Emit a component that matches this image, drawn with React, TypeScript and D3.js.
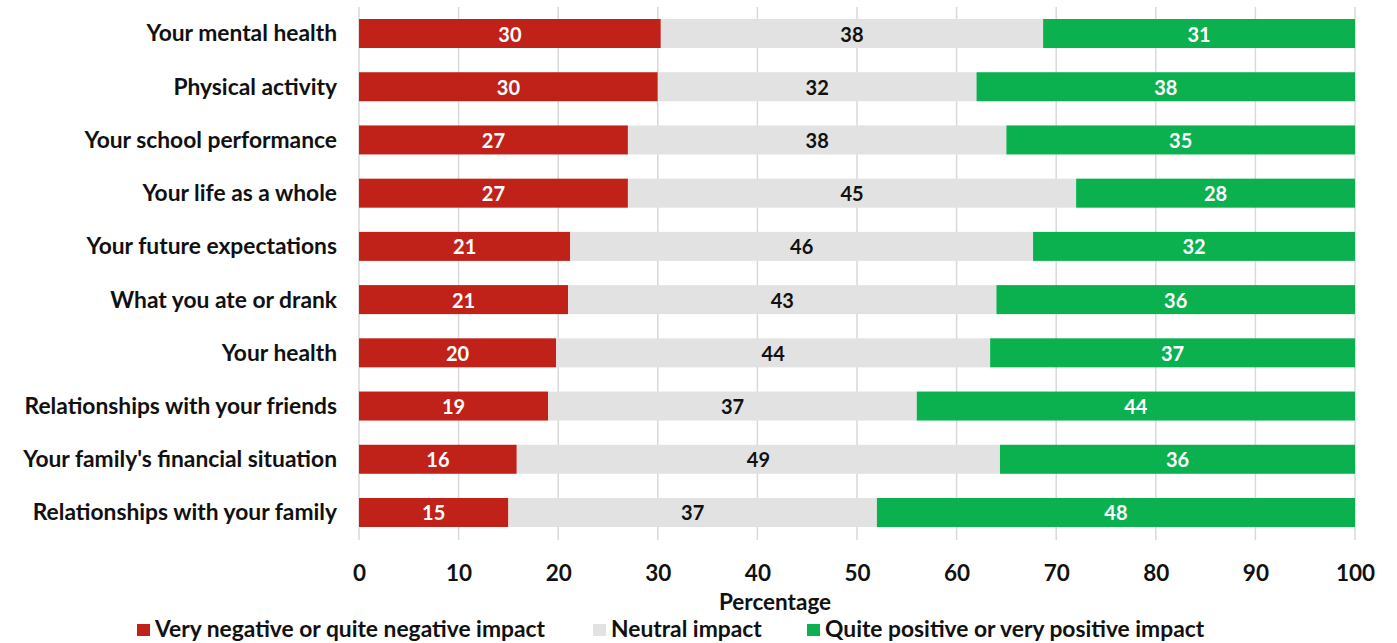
import {useEffect, useRef} from "react";
import * as d3 from 'd3'

const categories = [
    "Your mental health",
    "Physical activity",
    "Your school performance",
    "Your life as a whole",
    "Your future expectations",
    "What you ate or drank",
    "Your health",
    "Relationships with your friends",
    "Your family's financial situation",
    "Relationships with your family",
]
const negative = [30, 30, 27, 27, 21, 21, 20, 19, 16, 15]
const neutral = [38, 32, 38, 45, 46, 43, 44, 37, 49, 37]
const positive = [31, 38, 35, 28, 32, 36, 37, 44, 36, 48]
const seriesNames = [
    "Very negative or quite negative impact",
    "Neutral impact",
    "Quite positive or very positive impact",
]
const xTicks = [0, 10, 20, 30, 40, 50, 60, 70, 80, 90, 100]

const colors = ["#c0221a", "#e1e2e1", "#0bb04f"]
const labelColors = ["#ffffff", "#111111", "#ffffff"]
const FONT = "Lato, 'Open Sans', sans-serif"

const App = () => {
    const svgRef = useRef<SVGSVGElement>(null)

    useEffect(() => {
        document.body.style.margin = '0'
        const svg = d3.select(svgRef.current)
        svg.selectAll('*').remove()

        const x = d3.scaleLinear().domain([0, 100]).range([359, 1355])
        const p = 0.455
        const y = d3.scaleBand<string>()
            .domain(categories)
            .range([6.9, 539.1])
            .paddingInner(p)
            .paddingOuter(p / 2)

        // gridlines
        svg.append('g')
            .selectAll('line')
            .data(xTicks)
            .join('line')
            .attr('x1', d => x(d)).attr('x2', d => x(d))
            .attr('y1', 7).attr('y2', 540)
            .attr('stroke', '#d9d9d9')
            .attr('stroke-width', 1.5)

        // normalise each row to 100%
        const rows = categories.map((c, i) => {
            const vals = [negative[i], neutral[i], positive[i]]
            const total = d3.sum(vals)
            let acc = 0
            return vals.map((v, k) => {
                const x0 = acc / total * 100
                acc += v
                return {cat: c, k, v, x0, x1: acc / total * 100}
            })
        }).flat()

        svg.append('g')
            .selectAll('rect')
            .data(rows)
            .join('rect')
            .attr('x', d => x(d.x0))
            .attr('width', d => x(d.x1) - x(d.x0))
            .attr('y', d => y(d.cat)!)
            .attr('height', y.bandwidth())
            .attr('fill', d => colors[d.k])

        svg.append('g')
            .selectAll('text')
            .data(rows)
            .join('text')
            .attr('x', d => (x(d.x0) + x(d.x1)) / 2)
            .attr('y', d => y(d.cat)! + y.bandwidth() / 2 + 1)
            .attr('dy', '0.35em')
            .attr('text-anchor', 'middle')
            .attr('font-family', FONT)
            .attr('font-weight', 700)
            .attr('font-size', 20)
            .attr('fill', d => labelColors[d.k])
            .text(d => d.v)

        // category labels
        svg.append('g')
            .selectAll('text')
            .data(categories)
            .join('text')
            .attr('x', 337)
            .attr('y', d => y(d)! + y.bandwidth() / 2)
            .attr('dy', '0.35em')
            .attr('text-anchor', 'end')
            .attr('font-family', FONT)
            .attr('font-weight', 700)
            .attr('font-size', 22.8)
            .attr('fill', '#111')
            .text(d => d)

        // x axis tick labels
        const xAxis = d3.axisBottom(x).tickValues(xTicks).tickSize(0).tickPadding(0)
        const gx = svg.append('g')
            .attr('transform', 'translate(0,573)')
            .call(xAxis)
        gx.select('.domain').remove()
        gx.selectAll('text')
            .attr('dy', '0.35em')
            .attr('font-family', FONT)
            .attr('font-weight', 700)
            .attr('font-size', 22.5)
            .attr('fill', '#111')

        svg.append('text')
            .attr('x', 775)
            .attr('y', 602)
            .attr('dy', '0.35em')
            .attr('text-anchor', 'middle')
            .attr('font-family', FONT)
            .attr('font-weight', 700)
            .attr('font-size', 22.5)
            .attr('fill', '#111')
            .text('Percentage')

        // legend
        const legendX = [137, 593, 807]
        const lg = svg.append('g')
            .selectAll('g')
            .data(seriesNames)
            .join('g')
            .attr('transform', (d, i) => `translate(${legendX[i]},629)`)
        lg.append('rect')
            .attr('x', 0).attr('y', -5)
            .attr('width', 13).attr('height', 12)
            .attr('fill', (d, i) => colors[i])
        lg.append('text')
            .attr('x', 18)
            .attr('dy', '0.33em')
            .attr('font-family', FONT)
            .attr('font-weight', 700)
            .attr('font-size', 22.8)
            .attr('fill', '#111')
            .text(d => d)
    }, [])

    return (
        <svg ref={svgRef} width={1397} height={643} style={{display: 'block'}}/>
    )
}

export default App
